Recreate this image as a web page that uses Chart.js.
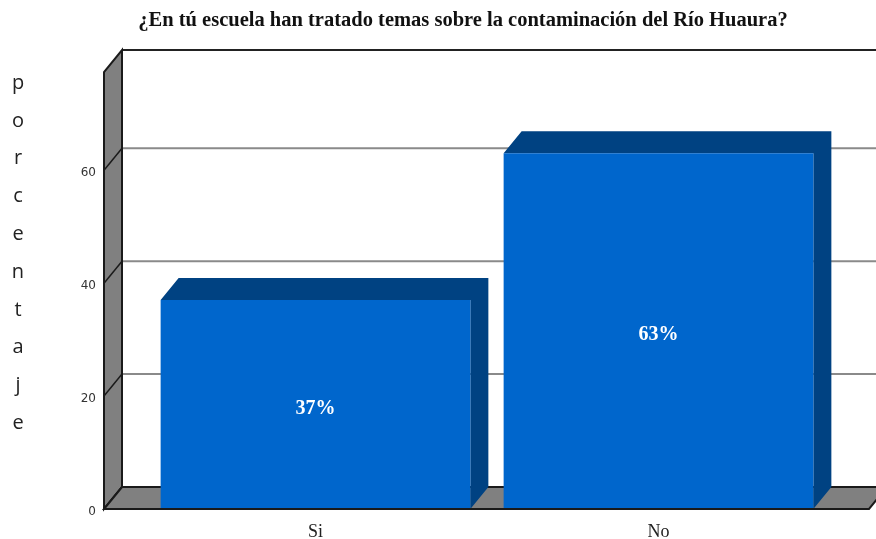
<!DOCTYPE html>
<html lang="es">
<head>
<meta charset="UTF-8" />
<title>Contaminación del Río Huaura</title>
<script src="https://cdn.jsdelivr.net/npm/chart.js"></script>
<style>
  html, body { margin: 0; padding: 0; background: #fff; overflow: hidden; }
  canvas { display: block; }
</style>
</head>
<body>
<canvas id="grafico" width="876" height="539"></canvas>
<script>
// datos de la encuesta
const categorias = ["Si", "No"];
const porcentajes = [37, 63];
const marcasY = [0, 20, 40, 60];
const tituloGrafico = "¿En tú escuela han tratado temas sobre la contaminación del Río Huaura?";
const tituloEjeY = "porcentaje";

// efecto 3D: desplazamiento de la profundidad
const PROF_X = 18;
const PROF_Y = 22;
const MARGEN_MARCO = 40;

const marco3d = {
    id: "marco3d",
    beforeDatasetsDraw(chart) {
        const ctx = chart.ctx;
        const area = chart.chartArea;
        const y = chart.scales.y;
        const izq = area.left - MARGEN_MARCO;
        const der = area.right + MARGEN_MARCO - 1;
        const base = y.getPixelForValue(0);
        const tope = area.top;
        const W = chart.width;
        ctx.save();

        // líneas de cuadrícula en la pared del fondo
        ctx.strokeStyle = "#8a8a8a";
        ctx.lineWidth = 2;
        marcasY.forEach((v) => {
            if (v === 0) return;
            const py = y.getPixelForValue(v) - PROF_Y;
            ctx.beginPath();
            ctx.moveTo(izq + PROF_X, py);
            ctx.lineTo(W, py);
            ctx.stroke();
        });
        // borde superior de la pared del fondo
        ctx.strokeStyle = "#222";
        ctx.beginPath();
        ctx.moveTo(izq + PROF_X, tope - PROF_Y);
        ctx.lineTo(W, tope - PROF_Y);
        ctx.stroke();

        // pared izquierda
        ctx.fillStyle = "#808080";
        ctx.beginPath();
        ctx.moveTo(izq, base);
        ctx.lineTo(izq, tope);
        ctx.lineTo(izq + PROF_X, tope - PROF_Y);
        ctx.lineTo(izq + PROF_X, base - PROF_Y);
        ctx.closePath();
        ctx.fill();
        ctx.strokeStyle = "#1a1a1a";
        ctx.lineWidth = 2;
        ctx.stroke();
        ctx.lineWidth = 1.5;
        marcasY.forEach((v) => {
            const py = y.getPixelForValue(v);
            ctx.beginPath();
            ctx.moveTo(izq, py);
            ctx.lineTo(izq + PROF_X, py - PROF_Y);
            ctx.stroke();
        });

        // piso
        ctx.fillStyle = "#808080";
        ctx.beginPath();
        ctx.moveTo(izq, base);
        ctx.lineTo(der, base);
        ctx.lineTo(der + PROF_X, base - PROF_Y);
        ctx.lineTo(izq + PROF_X, base - PROF_Y);
        ctx.closePath();
        ctx.fill();
        ctx.lineWidth = 2;
        ctx.stroke();
        ctx.beginPath();
        ctx.moveTo(izq + PROF_X, base - PROF_Y);
        ctx.lineTo(W, base - PROF_Y);
        ctx.stroke();

        // caras superior y lateral de las barras
        ctx.fillStyle = "#004282";
        chart.getDatasetMeta(0).data.forEach((bar) => {
            const x0 = bar.x - bar.width / 2;
            const x1 = bar.x + bar.width / 2;
            ctx.beginPath();
            ctx.moveTo(x0, bar.y);
            ctx.lineTo(x0 + PROF_X, bar.y - PROF_Y);
            ctx.lineTo(x1 + PROF_X, bar.y - PROF_Y);
            ctx.lineTo(x1 + PROF_X, base - PROF_Y);
            ctx.lineTo(x1, base);
            ctx.lineTo(x1, bar.y);
            ctx.closePath();
            ctx.fill();
        });
        ctx.restore();
    },
    afterDatasetsDraw(chart) {
        const ctx = chart.ctx;
        const area = chart.chartArea;
        const base = chart.scales.y.getPixelForValue(0);
        ctx.save();
        // borde frontal del piso por delante de las barras
        ctx.strokeStyle = "#1a1a1a";
        ctx.lineWidth = 2;
        ctx.beginPath();
        ctx.moveTo(area.left - MARGEN_MARCO, base);
        ctx.lineTo(area.right + MARGEN_MARCO - 1, base);
        ctx.stroke();

        // etiquetas de porcentaje
        ctx.fillStyle = "#ffffff";
        ctx.font = "bold 20px 'Liberation Serif', serif";
        ctx.textAlign = "center";
        ctx.textBaseline = "middle";
        chart.getDatasetMeta(0).data.forEach((bar, i) => {
            ctx.fillText(porcentajes[i] + "%", bar.x, (bar.y + base) / 2 + 4);
        });
        ctx.restore();
    },
    afterDraw(chart) {
        const ctx = chart.ctx;
        ctx.save();
        // título
        ctx.fillStyle = "#111";
        ctx.font = "bold 20.5px 'Liberation Serif', serif";
        ctx.textAlign = "center";
        ctx.textBaseline = "middle";
        ctx.fillText(tituloGrafico, 463, 21);
        // título del eje Y, letra por letra
        ctx.fillStyle = "#222";
        ctx.font = "20px 'Open Sans', sans-serif";
        const letras = tituloEjeY.split("");
        letras.forEach((l, i) => {
            ctx.fillText(l, 18, 83 + i * 37.8);
        });
        ctx.restore();
    }
};

const ctx = document.getElementById("grafico").getContext("2d");
new Chart(ctx, {
    type: "bar",
    data: {
        labels: categorias,
        datasets: [{
            data: porcentajes,
            backgroundColor: "#0066cc",
            borderWidth: 0,
            categoryPercentage: 1,
            barPercentage: 0.903
        }]
    },
    options: {
        responsive: false,
        animation: false,
        layout: { padding: { top: 72, right: 46, left: 0, bottom: 0 } },
        plugins: {
            legend: { display: false },
            tooltip: { enabled: false }
        },
        scales: {
            x: {
                grid: { display: false, drawTicks: false },
                border: { display: false },
                ticks: {
                    color: "#222",
                    font: { family: "'Liberation Serif', serif", size: 18 },
                    padding: 12
                },
                afterFit(scale) { scale.height = 30; }
            },
            y: {
                min: 0,
                max: 77.4,
                grid: { display: false, drawTicks: false },
                border: { display: false },
                afterBuildTicks(scale) {
                    scale.ticks = marcasY.map((v) => ({ value: v }));
                },
                ticks: {
                    color: "#333",
                    font: { family: "'DejaVu Sans', sans-serif", size: 12 },
                    padding: 48,
                    labelOffset: 3
                },
                afterFit(scale) {
                    scale.width = 144;
                    scale.paddingTop = 0;
                    scale.paddingBottom = 0;
                }
            }
        }
    },
    plugins: [marco3d]
});
</script>
</body>
</html>
